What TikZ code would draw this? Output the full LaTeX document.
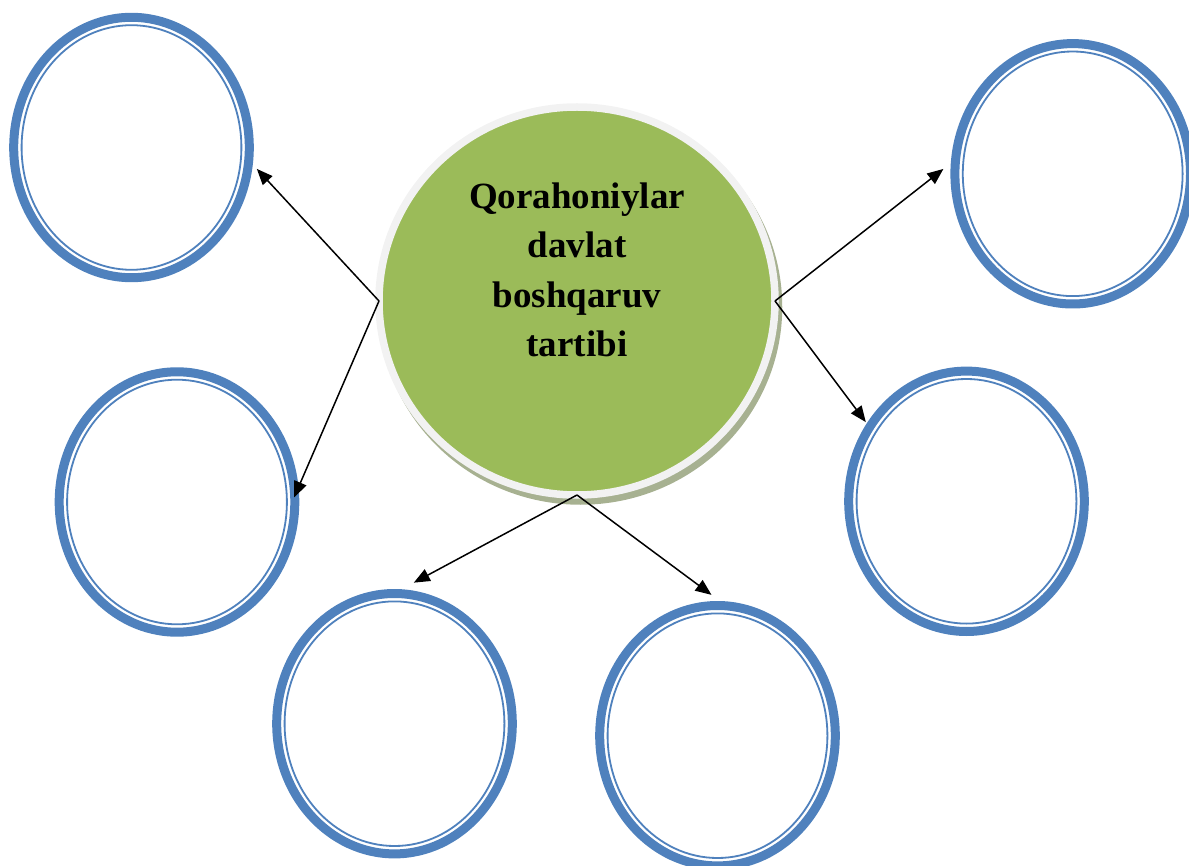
\documentclass[tikz,border=0pt]{standalone}
\usepackage{fontspec}
\setmainfont{Liberation Serif}
\usetikzlibrary{arrows.meta,shapes.geometric}
\definecolor{bandblue}{HTML}{4F81BD}
\definecolor{leafgreen}{HTML}{9BBB59}
\definecolor{ringgray}{HTML}{F2F2F2}
\definecolor{shadowcol}{HTML}{A7B191}
\begin{document}
\begin{tikzpicture}[x=1pt,y=-1pt,
  bubble/.style={ellipse, draw=bandblue, line width=9pt, minimum width=235.6pt,
    minimum height=260.4pt, inner sep=0pt, fill=white},
  innerring/.style={draw=bandblue, line width=1.8pt},
  link/.style={line width=1.5pt, -{Triangle[length=16pt,width=13pt]}},
  hub/.style={ellipse, draw=ringgray, line width=7.5pt, fill=leafgreen,
    minimum width=396pt, minimum height=388pt, inner sep=0pt, outer sep=0pt},
  hubtext/.style={font=\bfseries\fontsize{37}{49.5}\selectfont, align=center, text=black}
]
\useasboundingbox (0,0) rectangle (1189,866);

% central hub with its shadow
\coordinate (cc) at (577,301);
\fill[shadowcol] ([shift={(3.5,6)}]cc) ellipse [x radius=201.75pt, y radius=197.75pt];
\node[hub] (c) at (cc) {};
\node[hubtext, anchor=base] (title) at (577,356.7) {Qorahoniylar\\davlat\\boshqaruv\\tartibi};

% outer bubbles
\node[bubble] (e1) at (131.5,147.5) {};
\node[bubble] (e2) at (177,502) {};
\node[bubble] (e3) at (394.5,723.7) {};
\node[bubble] (e4) at (717.5,735.7) {};
\node[bubble] (e5) at (1072.7,173.8) {};
\node[bubble] (e6) at (966.5,501.3) {};
\foreach \e in {e1,e2,e3,e4,e5,e6}
  \draw[innerring] (\e.center) ellipse [x radius=109.9pt, y radius=122.3pt];

% connectors
\draw[link, shorten >=5.9pt] (c.west) -- (e1.-8.5);
\draw[link, shorten >=-11.3pt] (c.west) -- (e2.7.4);
\draw[link, shorten >=9.4pt] (c.east) -- (e5.175.5);
\draw[link, shorten >=1.6pt] (c.east) -- (e6.142.7);
\draw[link, shorten >=13.9pt] (c.south) -- (e3.87.2);
\draw[link, shorten >=10.4pt] (c.south) -- (e4.89.3);
\end{tikzpicture}
\end{document}
